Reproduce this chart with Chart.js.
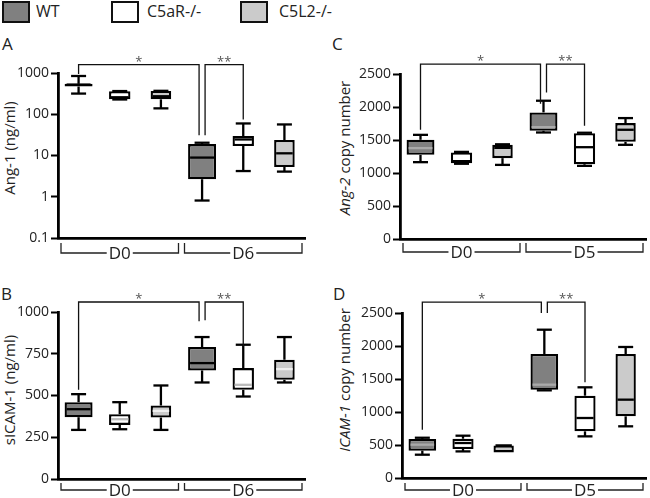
<!DOCTYPE html>
<html>
<head>
<meta charset="utf-8">
<script src="https://cdn.jsdelivr.net/npm/chart.js@4"></script>
<style>
  body { margin: 0; background: #fff; font-family: 'Open Sans', sans-serif; color: #222; }
  #page { position: relative; width: 650px; height: 498px; overflow: hidden; }
  .panel { position: absolute; }
  .sw { position: absolute; top: 1px; width: 24px; height: 18px; border: 2px solid #111; }
  .lg { position: absolute; top: 0; font-size: 16px; line-height: 22px; }
  .letter { position: absolute; font-size: 17px; line-height: 17px; }
  .ytitle { position: absolute; font-size: 15px; line-height: 15px; white-space: nowrap; transform: translate(-50%, -50%) rotate(-90deg); }
</style>
</head>
<body>
<div id="page">
  <div class="sw" style="left:2px;background:#808080"></div><div class="lg" style="left:36px">WT</div>
  <div class="sw" style="left:111px;background:#fff"></div><div class="lg" style="left:147px">C5aR-/-</div>
  <div class="sw" style="left:240px;background:#cbcbcb"></div><div class="lg" style="left:279px">C5L2-/-</div>

  <div class="letter" style="left:2px;top:35px">A</div>
  <div class="letter" style="left:332px;top:35px">C</div>
  <div class="letter" style="left:1px;top:285px">B</div>
  <div class="letter" style="left:333px;top:285px">D</div>

  <div class="ytitle" style="left:9px;top:148px">Ang-1 (ng/ml)</div>
  <div class="ytitle" style="left:344px;top:148px"><i>Ang-2</i> copy number</div>
  <div class="ytitle" style="left:9px;top:390px">sICAM-1 (ng/ml)</div>
  <div class="ytitle" style="left:344px;top:380px"><i>ICAM-1</i> copy number</div>

  <div class="panel" style="left:0;top:40px;width:320px;height:222px"><canvas id="chartA"></canvas></div>
  <div class="panel" style="left:330px;top:40px;width:320px;height:222px"><canvas id="chartC"></canvas></div>
  <div class="panel" style="left:0;top:272px;width:320px;height:226px"><canvas id="chartB"></canvas></div>
  <div class="panel" style="left:330px;top:272px;width:320px;height:226px"><canvas id="chartD"></canvas></div>
</div>

<script>
const genotypes = ['WT', 'C5aR-/-', 'C5L2-/-'];
const daysAB = ['D0', 'D6'];
const daysCD = ['D0', 'D5'];

// box stats: [min, q1, median, q3, max] for each day
const ang1WT = [[317, 470, 524, 545, 846], [0.81, 2.66, 8.9, 18.9, 20.4]];
const ang1C5aR = [[228, 232, 258, 361, 365], [4.2, 17, 24.5, 29.6, 59.8]];
const ang1C5L2 = [[139, 230, 273, 365, 370], [4.07, 5.27, 11.3, 23.7, 56.6]];

const sicamWT = [[294, 370, 418, 460, 508], [578, 650, 694, 790, 850]];
const sicamC5aR = [[298, 324, 358, 388, 460], [494, 534, 564, 664, 804]];
const sicamC5L2 = [[294, 368, 408, 440, 560], [578, 594, 658, 714, 850]];

const ang2WT = [[1164, 1275, 1377, 1503, 1578], [1614, 1640, 1695, 1918, 2095]];
const ang2C5aR = [[1140, 1149, 1180, 1310, 1320], [1108, 1133, 1391, 1604, 1610]];
const ang2C5L2 = [[1123, 1225, 1381, 1427, 1435], [1427, 1472, 1655, 1756, 1832]];

const icamWT = [[353, 414, 505, 591, 610], [1328, 1338, 1414, 1879, 2247]];
const icamC5aR = [[403, 439, 530, 595, 641], [631, 707, 909, 1247, 1374]];
const icamC5L2 = [[388, 388, 494, 494, 494], [783, 934, 1187, 1879, 1985]];

const ang1Ticks = [0.1, 1, 10, 100, 1000];
const sicamTicks = [0, 250, 500, 750, 1000];
const copyTicks = [0, 500, 1000, 1500, 2000, 2500];

// significance: [fromGenotype, fromDay, fromEnd, toGenotype, toDay, toEnd, top, label]
const ang1Sig = [[0, 0, 950, 0, 1, 31, 1590, '*'], [0, 1, 31, 1, 1, 75, 1590, '**']];
const sicamSig = [[0, 0, 534, 0, 1, 944, 1060, '*'], [0, 1, 950, 1, 1, 794, 1060, '**']];
const ang2Sig = [[0, 0, 1655, 0, 1, 2050, 2651, '*'], [0, 1, 2221, 1, 1, 1715, 2651, '**']];
const icamSig = [[0, 0, 732, 0, 1, 2500, 2666, '*'], [0, 1, 2500, 1, 1, 1449, 2666, '**']];

const fills = ['#808080', '#ffffff', '#cbcbcb'];
const widths = [0.68, 0.52, 0.5];

const boxExtras = {
  id: 'boxExtras',
  afterDatasetsDraw(chart, args, opts) {
    const ctx = chart.ctx;
    const y = chart.scales.y;
    const x = chart.scales.x;
    const line = (x1, y1, x2, y2) => { ctx.beginPath(); ctx.moveTo(x1, y1); ctx.lineTo(x2, y2); ctx.stroke(); };
    ctx.save();

    // whiskers + medians
    opts.stats.forEach((set, di) => {
      const meta = chart.getDatasetMeta(di);
      meta.data.forEach((bar, i) => {
        const [mn, q1, md, q3, mx] = set[i];
        const cx = bar.x, hw = bar.width / 2;
        ctx.strokeStyle = '#000';
        ctx.lineWidth = 2.3;
        if (mx > q3) {
          line(cx, y.getPixelForValue(q3), cx, y.getPixelForValue(mx));
          line(cx - 7.5, y.getPixelForValue(mx), cx + 7.5, y.getPixelForValue(mx));
        }
        if (mn < q1) {
          line(cx, y.getPixelForValue(q1), cx, y.getPixelForValue(mn));
          line(cx - 7.5, y.getPixelForValue(mn), cx + 7.5, y.getPixelForValue(mn));
        }
        ctx.strokeStyle = opts.medianColors[di];
        line(cx - hw + 2, y.getPixelForValue(md), cx + hw - 2, y.getPixelForValue(md));
      });
    });

    // day brackets under the axis
    const n = chart.data.labels.length;
    const half = (x.right - x.left) / n / 2;
    ctx.strokeStyle = '#222';
    ctx.lineWidth = 1.3;
    ctx.fillStyle = '#222';
    ctx.font = '17px "Open Sans"';
    ctx.textAlign = 'center';
    ctx.textBaseline = 'middle';
    chart.data.labels.forEach((lab, i) => {
      const c = x.getPixelForValue(i);
      const l = c - half + 3, r = c + half - 3;
      const t = y.bottom + opts.bracket[0], b = y.bottom + opts.bracket[1];
      const tw = ctx.measureText(lab).width / 2 + 2;
      ctx.beginPath();
      ctx.moveTo(l, t); ctx.lineTo(l, b); ctx.lineTo(c - tw, b);
      ctx.moveTo(c + tw, b); ctx.lineTo(r, b); ctx.lineTo(r, t);
      ctx.stroke();
      ctx.fillText(lab, c, b + 1);
    });

    // significance brackets
    const barX = (g, d) => chart.getDatasetMeta(g).data[d].x;
    ctx.font = '13px "Open Sans"';
    ctx.fillStyle = '#555';
    ctx.strokeStyle = '#111';
    ctx.textBaseline = 'alphabetic';
    opts.sig.forEach((s, k) => {
      const [g1, d1, e1, g2, d2, e2, top, label] = s;
      const sharedL = opts.sig.some((o, j) => j !== k && o[3] === g1 && o[4] === d1);
      const sharedR = opts.sig.some((o, j) => j !== k && o[0] === g2 && o[1] === d2);
      const x1 = barX(g1, d1) + (sharedL ? 3 : 0);
      const x2 = barX(g2, d2) - (sharedR ? 3 : 0);
      const ty = y.getPixelForValue(top);
      ctx.beginPath();
      ctx.moveTo(x1, y.getPixelForValue(e1));
      ctx.lineTo(x1, ty);
      ctx.lineTo(x2, ty);
      ctx.lineTo(x2, y.getPixelForValue(e2));
      ctx.stroke();
      ctx.fillText(label, (x1 + x2) / 2, ty + 1);
    });
    ctx.restore();
  }
};

function makeChart(id, days, stats, p) {
  const ctx = document.getElementById(id).getContext('2d');
  return new Chart(ctx, {
    type: 'bar',
    data: {
      labels: days,
      datasets: genotypes.map((g, i) => ({
        label: g,
        data: stats[i].map(s => [s[1], s[3]]),
        backgroundColor: fills[i],
        borderColor: '#000',
        borderWidth: 2.3,
        borderSkipped: false,
        barPercentage: widths[i],
        categoryPercentage: 1
      }))
    },
    options: {
      responsive: true,
      maintainAspectRatio: false,
      animation: false,
      events: [],
      layout: { padding: p.padding },
      plugins: {
        legend: { display: false },
        tooltip: { enabled: false },
        boxExtras: { stats: stats, sig: p.sig, medianColors: p.medianColors, bracket: p.bracket }
      },
      scales: {
        x: {
          type: 'category',
          offset: true,
          ticks: { display: false },
          grid: { display: true, drawOnChartArea: false, drawTicks: false },
          border: { display: true, width: 2.8, color: '#000' },
          afterFit: s => { s.height = 0; }
        },
        y: {
          type: p.type,
          min: p.ticks[0],
          max: p.ticks[p.ticks.length - 1],
          afterBuildTicks: s => { s.ticks = p.ticks.map(v => ({ value: v })); },
          afterFit: s => { s.width = p.yWidth; },
          ticks: {
            color: '#222',
            padding: 2,
            font: { family: 'Open Sans', size: 14 },
            callback: v => String(v)
          },
          grid: { display: true, drawOnChartArea: false, drawTicks: true, tickLength: 7, tickWidth: 2, color: '#000' },
          border: { display: true, width: 2.8, color: '#000' }
        }
      }
    },
    plugins: [boxExtras]
  });
}

makeChart('chartA', daysAB, [ang1WT, ang1C5aR, ang1C5L2], {
  type: 'logarithmic', ticks: ang1Ticks, sig: ang1Sig, yWidth: 58,
  padding: { left: 0, top: 33, right: 15, bottom: 24 },
  medianColors: ['#000', '#000', '#000'], bracket: [5, 15]
});
makeChart('chartC', daysCD, [ang2WT, ang2C5aR, ang2C5L2], {
  type: 'linear', ticks: copyTicks, sig: ang2Sig, yWidth: 70,
  padding: { left: 0, top: 34, right: 4, bottom: 23 },
  medianColors: ['#aaa', '#000', '#000'], bracket: [4, 13]
});
makeChart('chartB', daysAB, [sicamWT, sicamC5aR, sicamC5L2], {
  type: 'linear', ticks: sicamTicks, sig: sicamSig, yWidth: 58,
  padding: { left: 0, top: 40, right: 15, bottom: 19 },
  medianColors: ['#000', '#bbb', '#f0f0f0'], bracket: [4, 11]
});
makeChart('chartD', daysCD, [icamWT, icamC5aR, icamC5L2], {
  type: 'linear', ticks: copyTicks, sig: icamSig, yWidth: 72,
  padding: { left: 0, top: 41, right: 4, bottom: 20 },
  medianColors: ['#aaa', '#000', '#000'], bracket: [5, 12]
});
</script>
</body>
</html>
